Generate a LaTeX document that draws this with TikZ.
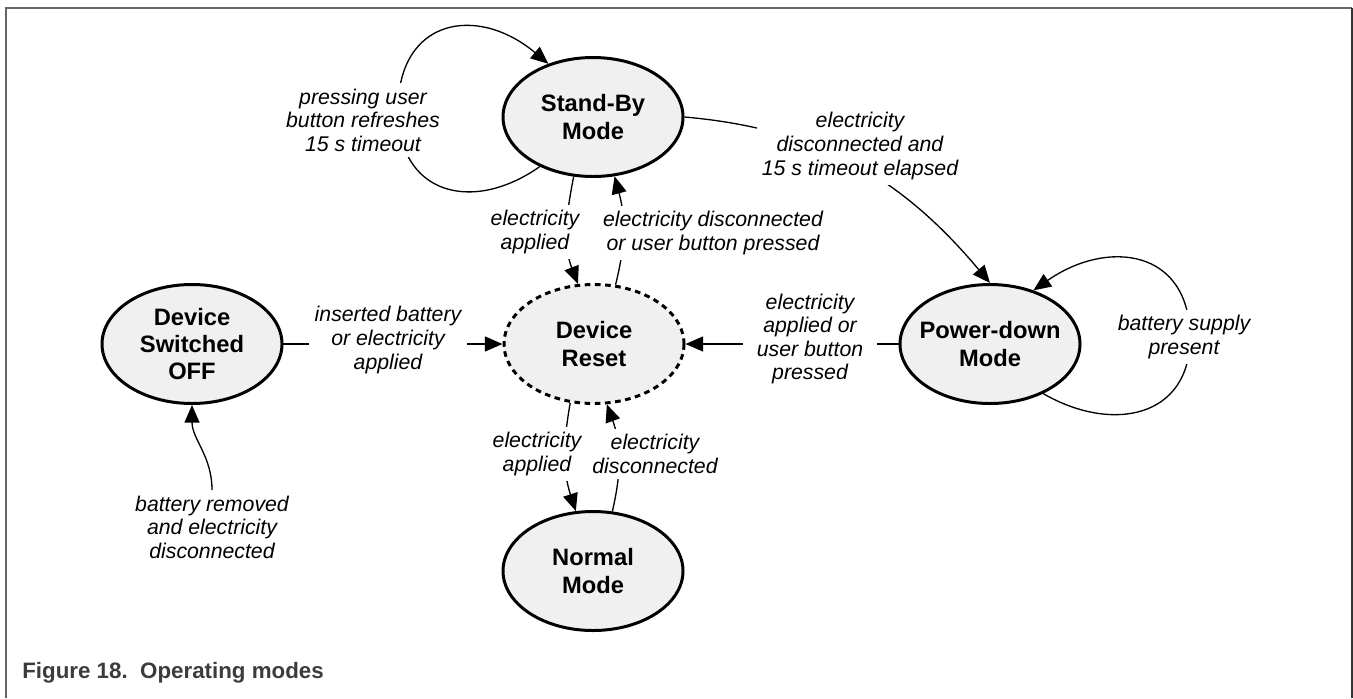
\documentclass[tikz,border=0pt]{standalone}
\usepackage{fontspec}
\setmainfont{Liberation Sans}
\usetikzlibrary{shapes.geometric,arrows.meta}
\definecolor{modefill}{HTML}{F0F0F0}
\definecolor{framegray}{HTML}{666666}
\definecolor{captiongray}{HTML}{3C3C3C}
\tikzset{
  mode/.style={draw, ellipse, line width=1.7pt, fill=modefill, minimum width=3.6cm, minimum height=2.38cm,
    inner xsep=-10pt, inner ysep=0pt, align=center, font=\fontsize{13.5}{15.6}\selectfont\bfseries},
  resetmode/.style={mode, dash pattern=on 3.2pt off 2.6pt},
  trans/.style={line width=0.75pt, -{Triangle[length=10pt,width=8.5pt]}},
  lbl/.style={fill=white, inner sep=3pt, align=center, font=\fontsize{12.1}{13.4}\selectfont\itshape},
}
\begin{document}
\begin{tikzpicture}
        \useasboundingbox (0,0) rectangle (27.06,-13.96);
        % Modes
            \node[mode] (SB) at (11.86,-2.34) {Stand-By\\Mode};
            \node[mode] (OFF) at (3.84,-6.88) {Device\\Switched\\OFF};
            \node[resetmode] (RST) at (11.88,-6.88) {Device\\Reset};
            \node[mode] (PD) at (19.80,-6.88) {Power-down\\Mode};
            \node[mode] (NM) at (11.86,-11.42) {Normal\\Mode};
            \node[lbl] (lBatt) at (4.24,-10.54) {battery removed\\and electricity\\disconnected};
        % Turning points of the loops
            \coordinate (sbLoop) at (7.96,-2.20);
            \coordinate (pdLoop) at (23.80,-6.76);
        % Transitions
            \draw[trans] (SB.223) to[out=215,in=-90,looseness=1.4] (sbLoop) to[out=90,in=140,looseness=1.5] (SB.130);
            \draw[trans] (SB.east) to[out=-5,in=130] (PD.north);
            \draw[trans] (SB.252) to[out=259,in=111] (RST.105);
            \draw[trans] (RST.70) to[out=76,in=285] (SB.290);
            \draw[trans] (OFF) -- (RST);
            \draw[trans] (PD) -- (RST);
            \draw[trans] (PD.-43) to[out=-30,in=-90,looseness=1.3] (pdLoop) to[out=90,in=35,looseness=1.4] (PD.51);
            \draw[trans] (RST.248) to[out=260,in=108] (NM.106);
            \draw[trans] (NM.72) to[out=77,in=290] (RST.282);
            \draw[trans] (lBatt.north) to[out=90,in=-90] (OFF.south);
        % Labels
            \node[lbl] (lSBloop) at (7.26,-2.40) {pressing user\\button refreshes\\15 s timeout};
            \node[lbl] (lSBPD) at (17.20,-2.92) {electricity\\disconnected and\\15 s timeout elapsed};
            \node[lbl] (lSBRST) at (10.70,-4.64) {electricity\\applied};
            \node[lbl] (lRSTSB) at (14.26,-4.66) {electricity disconnected\\or user button pressed};
            \node[lbl] (lOFFRST) at (7.76,-6.80) {inserted battery\\or electricity\\applied};
            \node[lbl, inner xsep=8pt] (lPDRST) at (16.20,-6.78) {electricity\\applied or\\user button\\pressed};
            \node[lbl] (lPDloop) at (23.68,-6.74) {battery supply\\present};
            \node[lbl] (lRSTNM) at (10.74,-9.08) {electricity\\applied};
            \node[lbl] (lNMRST) at (13.10,-9.08) {electricity\\disconnected};
        % Frame and caption
            \draw[framegray, line width=1.4pt] (0.12,-13.96) -- (0.12,-0.16) -- (27.04,-0.16);
            \draw[black!80, line width=0.6pt] (27.04,-0.16) -- (27.04,-13.96);
            \node[anchor=base west, inner sep=0pt, text=captiongray, font=\fontsize{12.7}{14}\selectfont\bfseries] (cap) at (0.44,-13.56) {Figure 18.\ \ Operating modes};
        \end{tikzpicture}
\end{document}
